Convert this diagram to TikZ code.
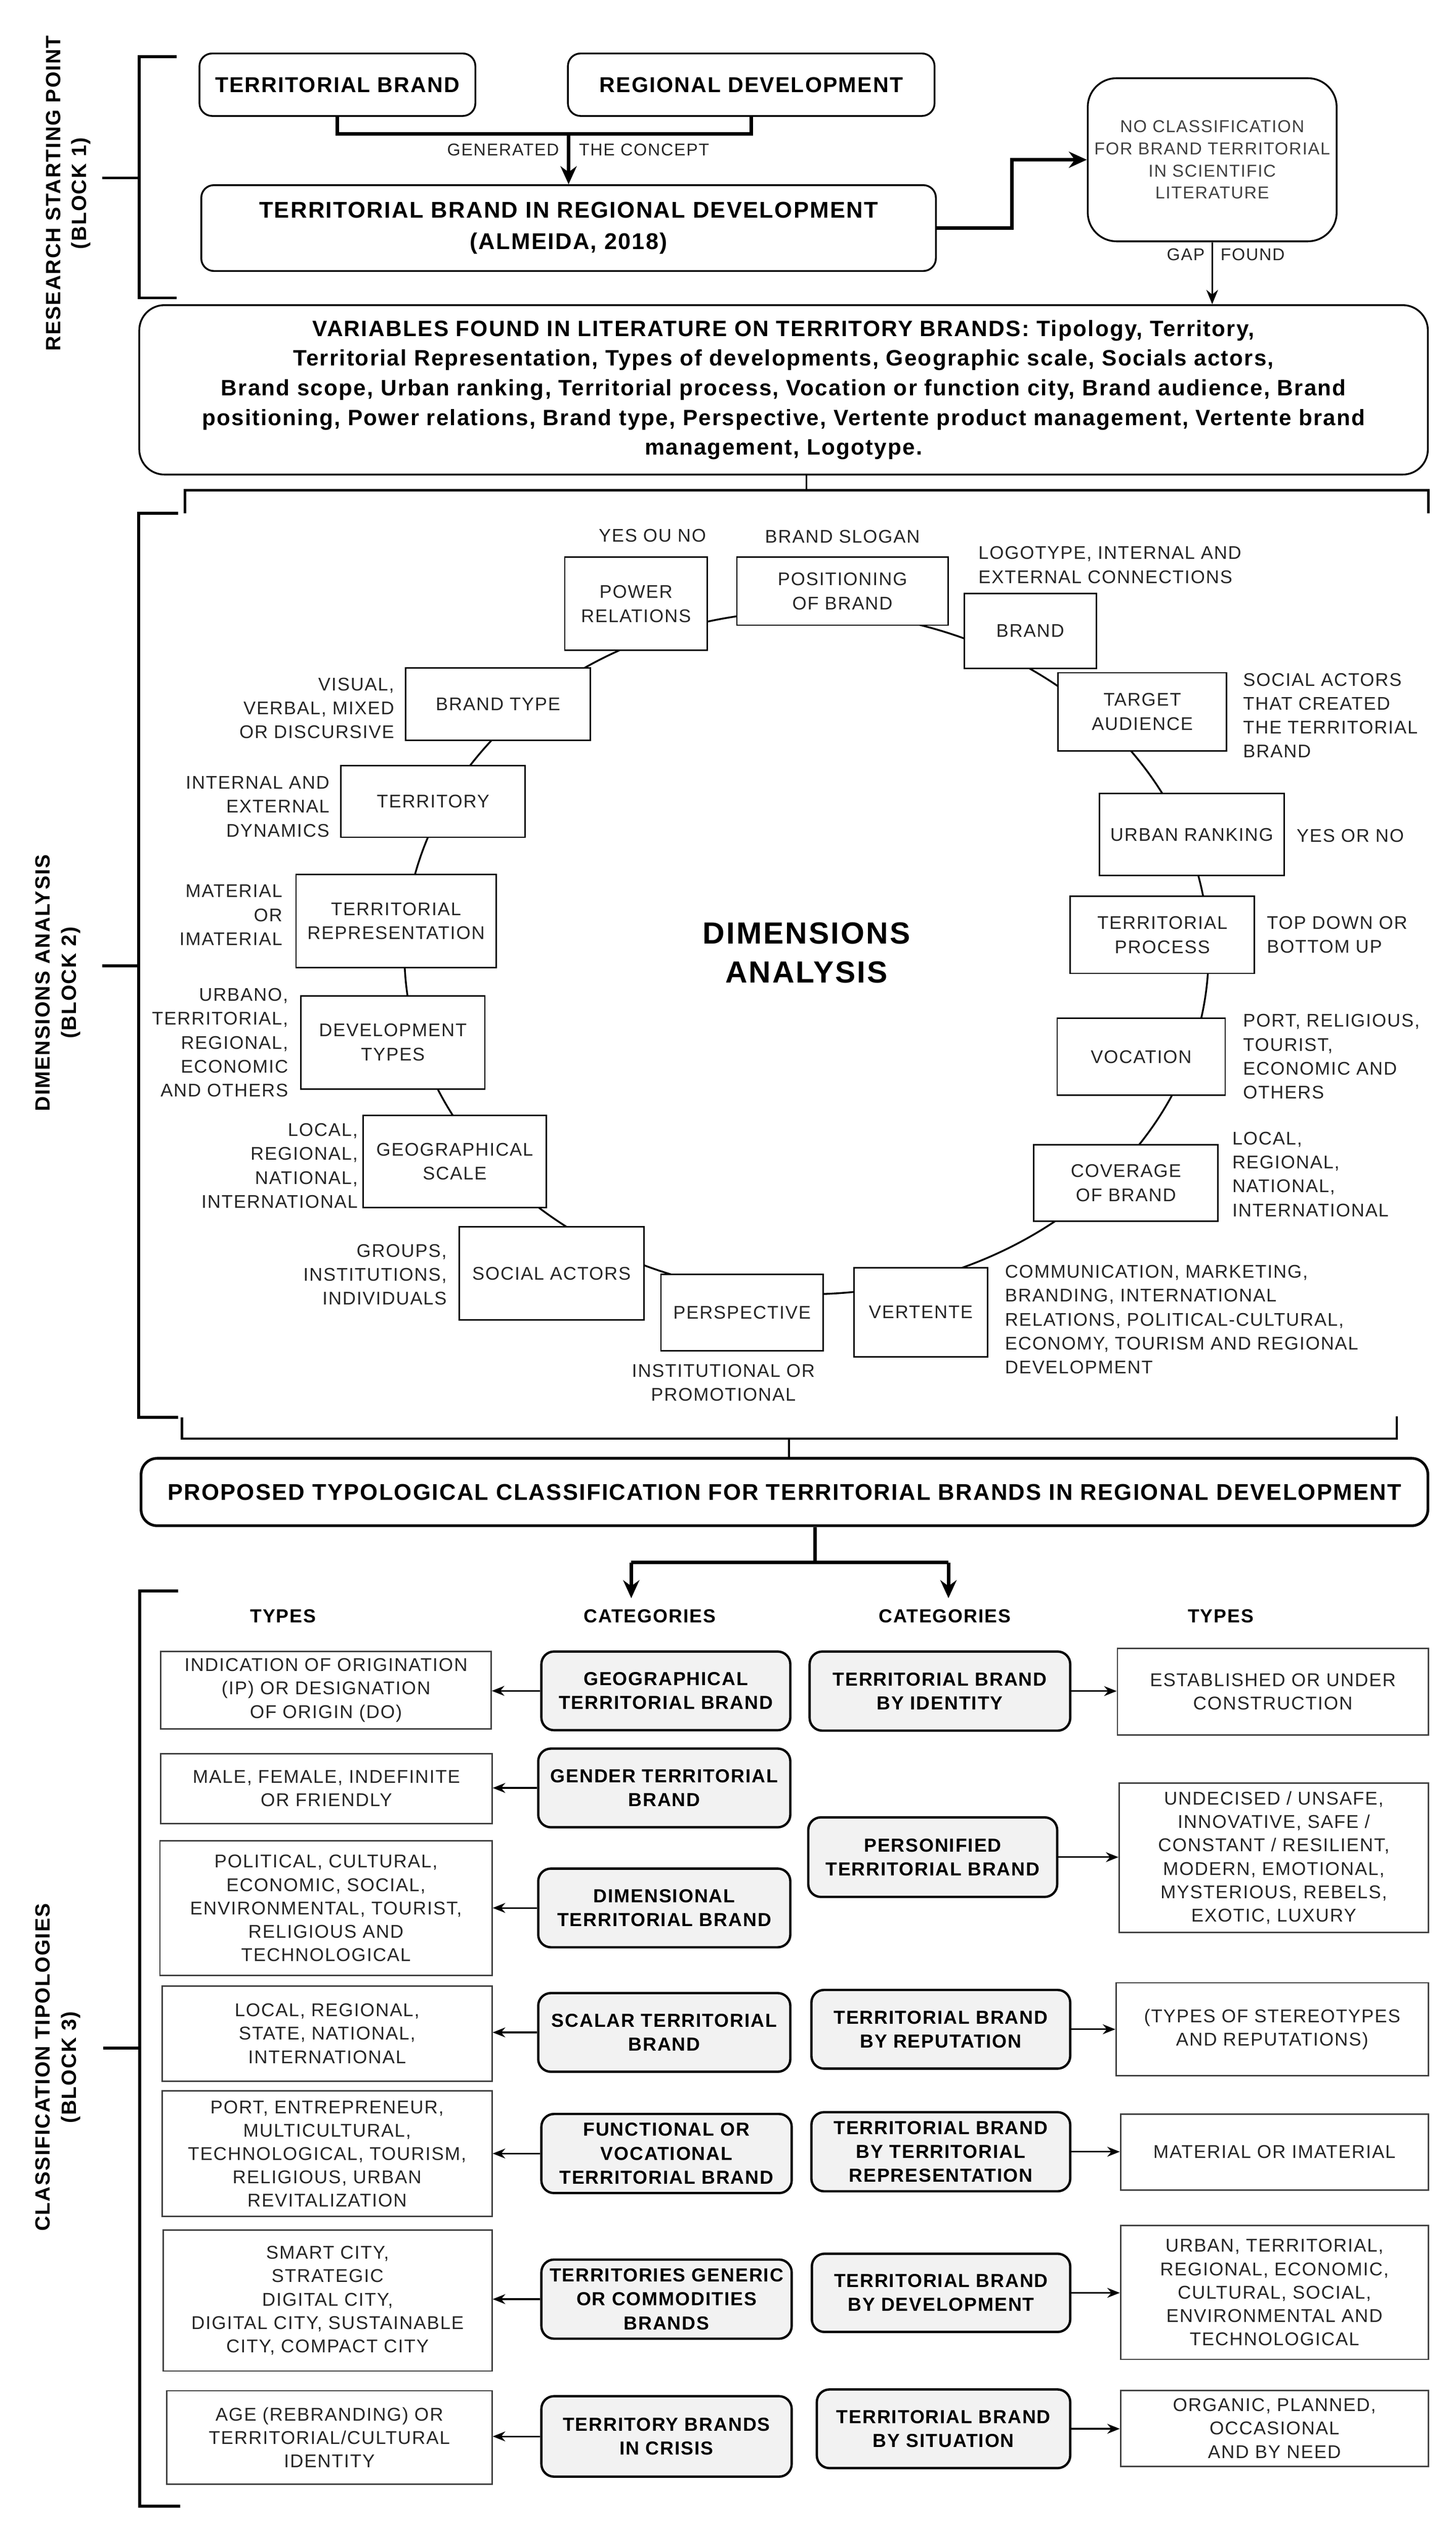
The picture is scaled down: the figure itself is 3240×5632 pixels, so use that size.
\documentclass[tikz,border=0pt]{standalone}
\usepackage{fontspec}
\setmainfont{Liberation Sans}[LetterSpace=5]
\usetikzlibrary{arrows.meta,shapes.geometric,calc}
\definecolor{catfill}{HTML}{F2F2F2}
\definecolor{txt}{HTML}{262626}
\newcommand\bx[7]{%
  \pgfmathsetmacro\bxw{(#5-#3)*0.25}%
  \pgfmathsetmacro\bxh{(#6-#4)*0.25}%
  \node[#1, minimum width=\bxw pt, minimum height=\bxh pt] (#2) at ({(#3+#5)/2},{(#4+#6)/2}) {#7};}
\begin{document}
\begin{tikzpicture}[x=0.25pt,y=-0.25pt,
  b1box/.style={draw, line width=1pt, rounded corners=7pt, align=center, inner sep=0pt, font=\bfseries\fontsize{12}{17.5}\selectfont},
  ncbox/.style={draw, line width=1pt, rounded corners=16pt, align=center, inner sep=0pt, text=black!75, font=\fontsize{9.6}{12.3}\selectfont},
  varbox/.style={draw, line width=1pt, rounded corners=14pt, align=center, inner sep=0pt, font=\bfseries\fontsize{12.4}{16.5}\selectfont},
  dimbox/.style={draw, line width=0.8pt, fill=white, align=center, inner sep=0pt, text=txt, font=\fontsize{10.2}{13.5}\selectfont},
  slab/.style={inner sep=0pt, text=txt, font=\fontsize{10.2}{13.3}\selectfont},
  glab/.style={inner sep=0pt, text=txt, font=\fontsize{9.5}{12}\selectfont},
  ring/.style={draw, ellipse, line width=1pt, minimum width=447.5pt, minimum height=380pt, align=center, inner sep=0pt, font=\bfseries\fontsize{17}{21.5}\selectfont},
  propbox/.style={draw, line width=1.5pt, rounded corners=9pt, align=center, inner sep=0pt, font=\bfseries\fontsize{12.7}{15}\selectfont},
  hdr/.style={inner xsep=0pt, inner ysep=6pt, font=\bfseries\fontsize{10.5}{13}\selectfont},
  catbox/.style={draw, line width=1.3pt, rounded corners=7pt, fill=catfill, align=center, inner sep=0pt, font=\bfseries\fontsize{10.5}{13.3}\selectfont},
  typebox/.style={draw=black!75, line width=0.8pt, align=center, inner sep=0pt, text=txt, font=\fontsize{10.3}{13}\selectfont},
  blab/.style={rotate=90, align=center, inner sep=0pt, font=\bfseries\fontsize{11.5}{14.5}\selectfont},
  brk/.style={line width=1.6pt},
  brc/.style={line width=1.3pt},
  thk/.style={line width=2pt},
  lnk/.style={line width=0.9pt},
  tipA/.style={-{Stealth[length=10pt,width=9pt]}},
  tipB/.style={-{Stealth[length=8pt,width=6.5pt]}},
  tipC/.style={-{Stealth[length=7pt,width=5.5pt]}}
]
\path[use as bounding box] (0,0) rectangle (3240,5632);

% ---------------- BLOCK 1 ----------------
\node[blab] (lab1) at (152,430) {RESEARCH STARTING POINT\\(BLOCK 1)};
\draw[brk] (393,126) -- (310,126) -- (310,663) -- (393,663);
\draw[brk] (227,396) -- (310,396);

\bx{b1box}{tb}{444}{119}{1058}{258}{TERRITORIAL BRAND}
\bx{b1box}{rd}{1264}{119}{2080}{258}{REGIONAL DEVELOPMENT}
\bx{b1box, font=\bfseries\fontsize{12.7}{17.5}\selectfont}{tbrd}{448}{412}{2083}{603}{TERRITORIAL BRAND IN REGIONAL DEVELOPMENT\\(ALMEIDA, 2018)}
\bx{ncbox}{nc}{2421}{174}{2975}{537}{NO CLASSIFICATION\\FOR BRAND TERRITORIAL\\IN SCIENTIFIC\\LITERATURE}
\bx{varbox}{var}{310}{679}{3178}{1056}{VARIABLES FOUND IN LITERATURE ON TERRITORY BRANDS: Tipology, Territory,\\
Territorial Representation, Types of developments, Geographic scale, Socials actors,\\
Brand scope, Urban ranking, Territorial process, Vocation or function city, Brand audience, Brand\\
positioning, Power relations, Brand type, Perspective, Vertente product management, Vertente brand\\
management, Logotype.}

\coordinate (j1) at (1265.5,298);
\draw[thk] (tb.south) |- (j1) -| (rd.south);
\draw[thk,tipA] (j1) -- (tbrd.north);
\node[glab, anchor=east] (gen) at (1245,333) {GENERATED};
\node[glab, anchor=west] (con) at (1288,333) {THE CONCEPT};

\coordinate (k1) at (2252,506);
\draw[thk,tipA] (tbrd.east) -- (tbrd.east -| k1) |- (nc.west);
\draw[lnk,tipB] (nc.south) -- (nc.south |- var.north);
\node[glab, anchor=east] (gap) at (2682,567) {GAP};
\node[glab, anchor=west] (found) at (2716,567) {FOUND};

% ---------------- BLOCK 2 ----------------
\coordinate (b2c) at (1795,1091);
\draw[brc] (412,1142) -- (412,1091) -- (3179,1091) -- (3179,1142);
\draw[lnk] (b2c |- var.south) -- (b2c);

\node[blab] (lab2) at (129,2187) {DIMENSIONS ANALYSIS\\(BLOCK 2)};
\draw[brk] (396,1142) -- (309,1142) -- (309,3154) -- (397,3154);
\draw[brk] (228,2149) -- (309,2149);

\node[ring] (ring) at (1795,2120) {DIMENSIONS\\ANALYSIS};

\bx{dimbox}{pr}{1257}{1240}{1574}{1447}{POWER\\RELATIONS}
\bx{dimbox}{pos}{1640}{1240}{2110}{1391}{POSITIONING\\OF BRAND}
\bx{dimbox}{br}{2146}{1321}{2440}{1487}{BRAND}
\bx{dimbox}{ta}{2355}{1497}{2730}{1671}{TARGET\\AUDIENCE}
\bx{dimbox}{ur}{2447}{1766}{2858}{1948}{URBAN RANKING}
\bx{dimbox}{tp}{2382}{1994}{2792}{2166}{TERRITORIAL\\PROCESS}
\bx{dimbox}{voc}{2353}{2266}{2727}{2437}{VOCATION}
\bx{dimbox}{cov}{2301}{2547}{2711}{2717}{COVERAGE\\OF BRAND}
\bx{dimbox}{ver}{1901}{2821}{2198}{3019}{VERTENTE}
\bx{dimbox}{per}{1471}{2836}{1832}{3006}{PERSPECTIVE}
\bx{dimbox}{sa}{1022}{2730}{1433}{2937}{SOCIAL ACTORS}
\bx{dimbox}{gs}{808}{2482}{1216}{2687}{GEOGRAPHICAL\\SCALE}
\bx{dimbox}{dt}{670}{2216}{1079}{2423}{DEVELOPMENT\\TYPES}
\bx{dimbox}{trp}{659}{1946}{1104}{2153}{TERRITORIAL\\REPRESENTATION}
\bx{dimbox}{ter}{759}{1704}{1169}{1863}{TERRITORY}
\bx{dimbox}{bt}{903}{1486}{1314}{1647}{BRAND TYPE}

\node[slab] (l1) at (1452,1192) {YES OU NO};
\node[slab] (l2) at (1875,1194) {BRAND SLOGAN};
\node[slab, anchor=west, align=left] (l3) at (2177,1257) {LOGOTYPE, INTERNAL AND\\EXTERNAL CONNECTIONS};
\node[slab, anchor=west, align=left] (l4) at (2766,1592) {SOCIAL ACTORS\\THAT CREATED\\THE TERRITORIAL\\BRAND};
\node[slab, anchor=west, align=left] (l5) at (2885,1860) {YES OR NO};
\node[slab, anchor=west, align=left] (l6) at (2819,2080) {TOP DOWN OR\\BOTTOM UP};
\node[slab, anchor=west, align=left] (l7) at (2766,2351) {PORT, RELIGIOUS,\\TOURIST,\\ECONOMIC AND\\OTHERS};
\node[slab, anchor=west, align=left] (l8) at (2742,2613) {LOCAL,\\REGIONAL,\\NATIONAL,\\INTERNATIONAL};
\node[slab, anchor=west, align=left] (l9) at (2236,2936) {COMMUNICATION, MARKETING,\\BRANDING, INTERNATIONAL\\RELATIONS, POLITICAL-CULTURAL,\\ECONOMY, TOURISM AND REGIONAL\\DEVELOPMENT};
\node[slab, align=center] (l10) at (1610,3077) {INSTITUTIONAL OR\\PROMOTIONAL};
\node[slab, anchor=east, align=right] (l11) at (995,2836) {GROUPS,\\INSTITUTIONS,\\INDIVIDUALS};
\node[slab, anchor=east, align=right] (l12) at (797,2594) {LOCAL,\\REGIONAL,\\NATIONAL,\\INTERNATIONAL};
\node[slab, anchor=east, align=right] (l13) at (642,2320) {URBANO,\\TERRITORIAL,\\REGIONAL,\\ECONOMIC\\AND OTHERS};
\node[slab, anchor=east, align=right] (l14) at (629,2036) {MATERIAL\\OR\\IMATERIAL};
\node[slab, anchor=east, align=right] (l15) at (734,1795) {INTERNAL AND\\EXTERNAL\\DYNAMICS};
\node[slab, anchor=east, align=right] (l16) at (878,1576) {VISUAL,\\VERBAL, MIXED\\OR DISCURSIVE};

\draw[brc] (405,3154) -- (405,3201) -- (3109,3201) -- (3109,3152);

% ---------------- BLOCK 3 ----------------
\bx{propbox}{prop}{314}{3245}{3178}{3395}{PROPOSED TYPOLOGICAL CLASSIFICATION FOR TERRITORIAL BRANDS IN REGIONAL DEVELOPMENT}
\coordinate (b3c) at (1756,3201);
\draw[lnk] (b3c) -- (b3c |- prop.north);

\node[blab] (lab3) at (129,4600) {CLASSIFICATION TIPOLOGIES\\(BLOCK 3)};
\draw[brk] (397,3540) -- (311,3540) -- (311,5577) -- (401,5577);
\draw[brk] (230,4557) -- (311,4557);

\node[hdr] (h1) at (630,3596) {TYPES};
\node[hdr] (h2) at (1446,3596) {CATEGORIES};
\node[hdr] (h3) at (2103,3596) {CATEGORIES};
\node[hdr] (h4) at (2717,3596) {TYPES};

\coordinate (p1) at (1814,3477);
\coordinate (pl) at (1405,3477);
\coordinate (pq) at (2111,3477);
\draw[thk] (p1 |- prop.south) -- (p1);
\draw[thk] (pl) -- (pq);
\draw[thk,tipA] (pl) -- (pl |- h2.north);
\draw[thk,tipA] (pq) -- (pq |- h3.north);

% left types
\bx{typebox}{tl1}{358}{3675}{1093}{3847}{INDICATION OF ORIGINATION\\(IP) OR DESIGNATION\\OF ORIGIN (DO)}
\bx{typebox}{tl2}{358}{3902}{1095}{4058}{MALE, FEMALE, INDEFINITE\\OR FRIENDLY}
\bx{typebox}{tl3}{356}{4096}{1095}{4396}{POLITICAL, CULTURAL,\\ECONOMIC, SOCIAL,\\ENVIRONMENTAL, TOURIST,\\RELIGIOUS AND\\TECHNOLOGICAL}
\bx{typebox}{tl4}{361}{4419}{1095}{4631}{LOCAL, REGIONAL,\\STATE, NATIONAL,\\INTERNATIONAL}
\bx{typebox}{tl5}{361}{4653}{1095}{4932}{PORT, ENTREPRENEUR,\\MULTICULTURAL,\\TECHNOLOGICAL, TOURISM,\\RELIGIOUS, URBAN\\REVITALIZATION}
\bx{typebox}{tl6}{363}{4962}{1095}{5276}{SMART CITY,\\STRATEGIC\\DIGITAL CITY,\\DIGITAL CITY, SUSTAINABLE\\CITY, COMPACT CITY}
\bx{typebox}{tl7}{371}{5320}{1095}{5528}{AGE (REBRANDING) OR\\TERRITORIAL/CULTURAL\\IDENTITY}

% left categories
\bx{catbox}{cl1}{1205}{3675}{1759}{3850}{GEOGRAPHICAL\\TERRITORIAL BRAND}
\bx{catbox}{cl2}{1198}{3891}{1759}{4066}{GENDER TERRITORIAL\\BRAND}
\bx{catbox}{cl3}{1198}{4158}{1759}{4333}{DIMENSIONAL\\TERRITORIAL BRAND}
\bx{catbox}{cl4}{1198}{4435}{1759}{4610}{SCALAR TERRITORIAL\\BRAND}
\bx{catbox}{cl5}{1205}{4704}{1762}{4880}{FUNCTIONAL OR\\VOCATIONAL\\TERRITORIAL BRAND}
\bx{catbox}{cl6}{1205}{5028}{1762}{5204}{TERRITORIES GENERIC\\OR COMMODITIES\\BRANDS}
\bx{catbox}{cl7}{1205}{5332}{1762}{5511}{TERRITORY BRANDS\\IN CRISIS}

% right categories
\bx{catbox}{cr1}{1802}{3675}{2382}{3851}{TERRITORIAL BRAND\\BY IDENTITY}
\bx{catbox}{cr2}{1799}{4044}{2353}{4221}{PERSONIFIED\\TERRITORIAL BRAND}
\bx{catbox}{cr3}{1806}{4428}{2382}{4603}{TERRITORIAL BRAND\\BY REPUTATION}
\bx{catbox}{cr4}{1806}{4700}{2382}{4876}{TERRITORIAL BRAND\\BY TERRITORIAL\\REPRESENTATION}
\bx{catbox}{cr5}{1807}{5015}{2382}{5189}{TERRITORIAL BRAND\\BY DEVELOPMENT}
\bx{catbox}{cr6}{1818}{5317}{2382}{5492}{TERRITORIAL BRAND\\BY SITUATION}

% right types
\bx{typebox}{tr1}{2487}{3668}{3179}{3861}{ESTABLISHED OR UNDER\\CONSTRUCTION}
\bx{typebox}{tr2}{2491}{3968}{3179}{4300}{UNDECISED / UNSAFE,\\INNOVATIVE, SAFE /\\CONSTANT / RESILIENT,\\MODERN, EMOTIONAL,\\MYSTERIOUS, REBELS,\\EXOTIC, LUXURY}
\bx{typebox}{tr3}{2484}{4412}{3179}{4619}{(TYPES OF STEREOTYPES\\AND REPUTATIONS)}
\bx{typebox}{tr4}{2494}{4704}{3179}{4873}{MATERIAL OR IMATERIAL}
\bx{typebox}{tr5}{2494}{4952}{3179}{5250}{URBAN, TERRITORIAL,\\REGIONAL, ECONOMIC,\\CULTURAL, SOCIAL,\\ENVIRONMENTAL AND\\TECHNOLOGICAL}
\bx{typebox}{tr6}{2494}{5319}{3179}{5488}{ORGANIC, PLANNED,\\OCCASIONAL\\AND BY NEED}

% arrows
\foreach \i in {1,...,7} {\draw[lnk,tipC] (cl\i.west) -- (tl\i.east |- cl\i.west);}
\foreach \i in {1,...,6} {\draw[lnk,tipC] (cr\i.east) -- (tr\i.west |- cr\i.east);}
\end{tikzpicture}
\end{document}
